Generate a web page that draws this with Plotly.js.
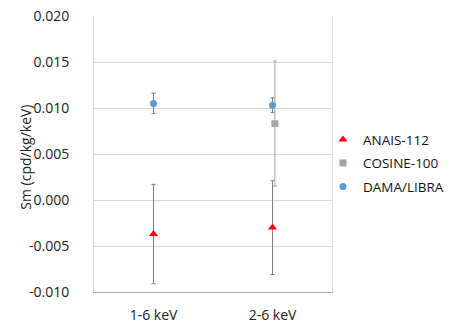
<!DOCTYPE html>
<html>
<head>
<meta charset="utf-8">
<script src="https://cdn.plot.ly/plotly-3.0.1.min.js"></script>
<style>
  html, body { margin: 0; padding: 0; background: #fff; }
  #chart { width: 460px; height: 325px; }
</style>
</head>
<body>
<div id="chart"></div>
<script>
// energy windows on the x axis
const categories = ['1-6 keV', '2-6 keV'];

// modulation amplitude Sm and its error (cpd/kg/keV)
const anaisSm = [-0.0037, -0.0030];
const anaisErr = [0.0054, 0.0051];
const cosineSm = [null, 0.0083];
const cosineErr = [null, 0.0068];
const damaSm = [0.0105, 0.0103];
const damaErr = [0.0011, 0.0008];

const yTicks = [-0.010, -0.005, 0.000, 0.005, 0.010, 0.015, 0.020];
const yTickText = ['-0.010', '-0.005', '0.000', '0.005', '0.010', '0.015', '0.020'];

const xPos = categories.map((_, i) => i);
const xCosine = categories.map((_, i) => i + 0.02);

const font = 'Open Sans, Liberation Sans, sans-serif';

const anais = {
  x: xPos, y: anaisSm, name: 'ANAIS-112', mode: 'markers', type: 'scatter', legendgroup: 'a',
  marker: { symbol: 'triangle-up', size: 8, color: '#ff0000' },
  error_y: { type: 'data', array: anaisErr, color: '#7f7f7f', thickness: 1, width: 2 }
};
const cosine = {
  x: xCosine, y: cosineSm, name: 'COSINE-100', mode: 'markers', type: 'scatter', legendgroup: 'c',
  marker: { symbol: 'square', size: 7, color: '#a5a5a5' },
  error_y: { type: 'data', array: cosineErr, color: '#a5a5a5', thickness: 1, width: 2 }
};
const dama = {
  x: xPos, y: damaSm, name: 'DAMA/LIBRA', mode: 'markers', type: 'scatter', legendgroup: 'd',
  marker: { symbol: 'circle', size: 7, color: '#5b9bd5' },
  error_y: { type: 'data', array: damaErr, color: '#7f7f7f', thickness: 1, width: 2 }
};

const layout = {
  width: 460, height: 325,
  margin: { l: 94, r: 128, t: 16, b: 33, autoexpand: false },
  paper_bgcolor: '#fff', plot_bgcolor: '#fff',
  font: { family: font, size: 14, color: '#222' },
  showlegend: true,
  legend: { x: 0.962, y: 0.467, yanchor: 'middle', xanchor: 'left', font: { size: 13.5, color: '#111' },
            bgcolor: 'rgba(0,0,0,0)', itemwidth: 30, traceorder: 'grouped', tracegroupgap: 3 },
  xaxis: {
    range: [-0.5, 1.5], tickvals: xPos, ticktext: categories,
    showgrid: false, zeroline: false, showline: true, linecolor: '#a6a6a6', linewidth: 1,
    ticks: '', ticklabelstandoff: 10, fixedrange: true
  },
  yaxis: {
    range: [-0.010, 0.020], tickvals: yTicks, ticktext: yTickText,
    showgrid: true, gridcolor: '#d9d9d9', zeroline: false,
    showline: true, mirror: true, linecolor: '#d9d9d9', linewidth: 1, ticks: '',
    ticklabelstandoff: 21
  },
  annotations: [{
    text: 'Sm (cpd/kg/keV)', textangle: -90, showarrow: false,
    xref: 'paper', yref: 'paper', x: -0.286, y: 0.49, xanchor: 'center', yanchor: 'middle',
    font: { size: 14, color: '#222' }
  }]
};

Plotly.newPlot('chart', [anais, cosine, dama], layout, { displayModeBar: false, staticPlot: true });
</script>
</body>
</html>
